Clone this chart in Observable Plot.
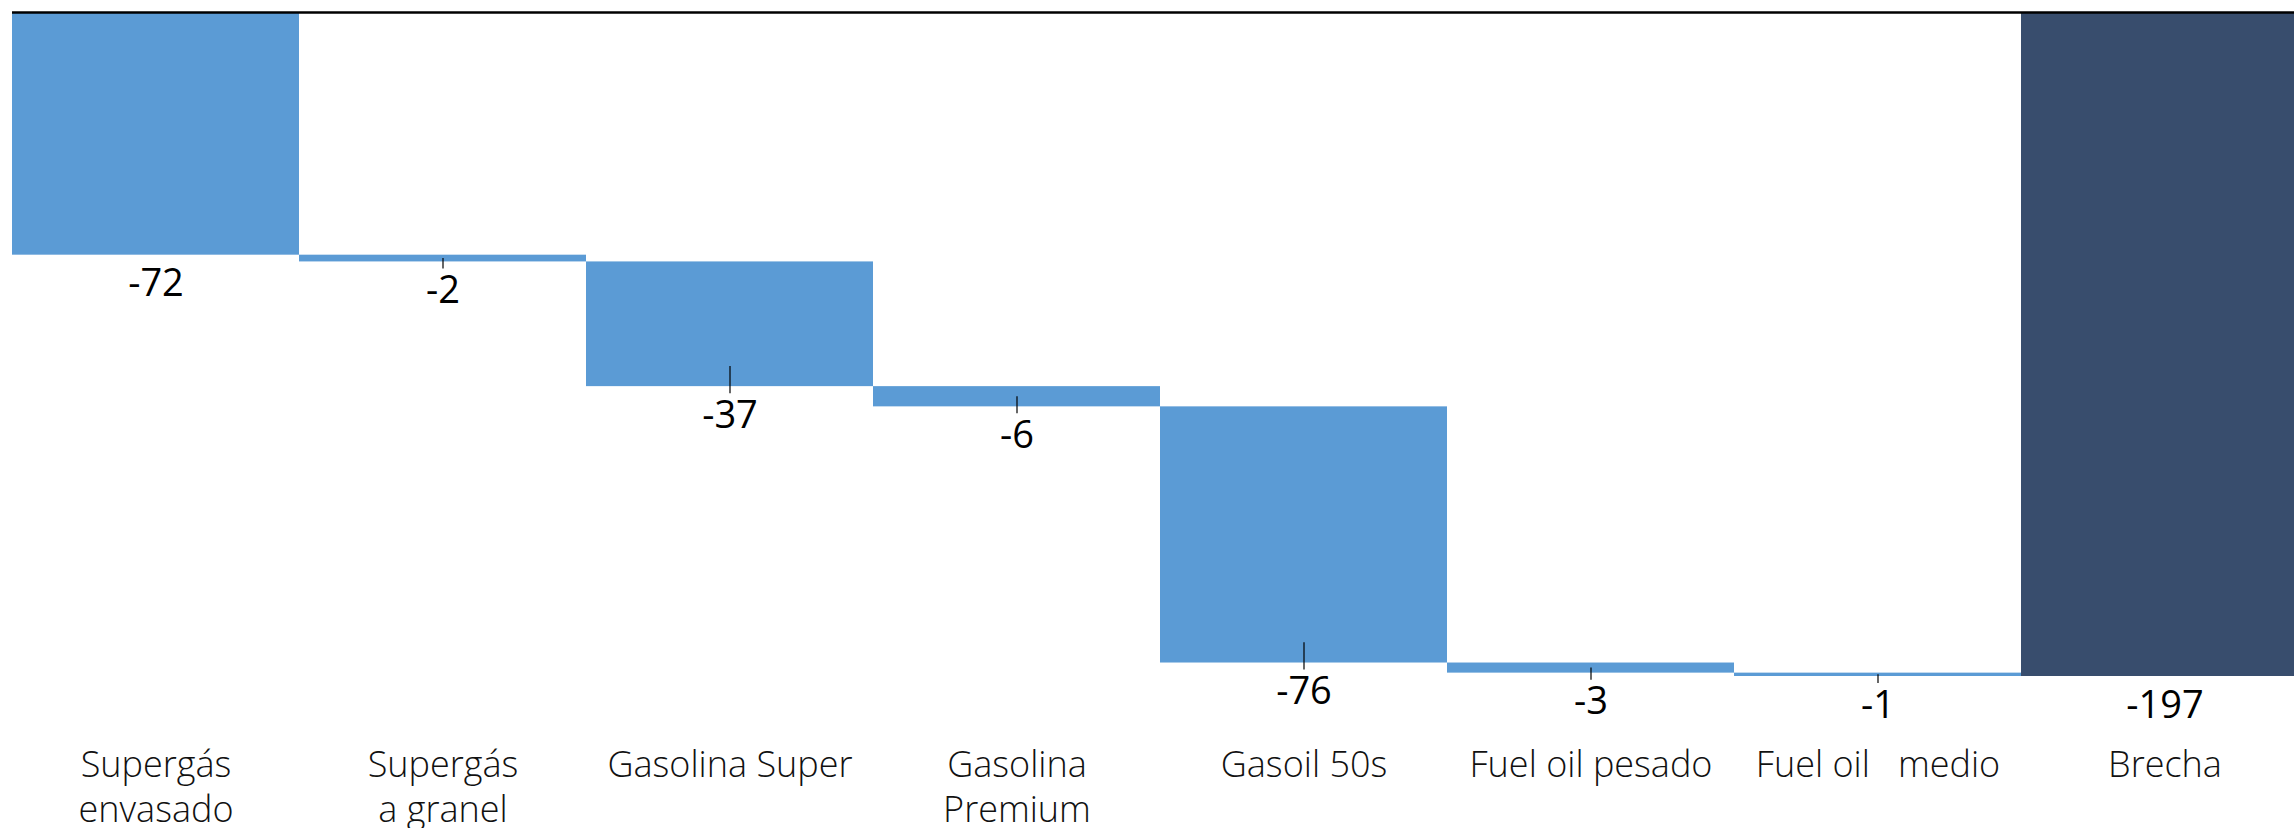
<!DOCTYPE html>
<html>
<head>
<meta charset="utf-8">
<script src="https://cdn.jsdelivr.net/npm/d3@7"></script>
<script src="https://cdn.jsdelivr.net/npm/@observablehq/plot@0.6"></script>
<style>
  html, body { margin: 0; padding: 0; background: #fff; }
  #chart svg text { white-space: pre; }
</style>
</head>
<body>
<div id="chart"></div>
<script>
// Data
const categories = ["Supergás\nenvasado", "Supergás\na granel", "Gasolina Super", "Gasolina\nPremium", "Gasoil 50s", "Fuel oil pesado", "Fuel oil   medio"];
const values = [-72, -2, -37, -6, -76, -3, -1];
const totalCategory = "Brecha";
const totalValue = -197;
const colors = {delta: "#5B9BD5", total: "#384D6D"};

// Build waterfall rows
let acc = 0;
const rows = categories.map((c, i) => {
  const start = acc;
  acc += values[i];
  return {cat: c, start, end: acc, value: values[i], type: "delta", idx: i};
});
rows.push({cat: totalCategory, start: 0, end: totalValue, value: totalValue, type: "total", idx: categories.length});
const domain = rows.map(d => d.cat);

const W = 2294, H = 828;
const chart = Plot.plot({
  width: W,
  height: H,
  marginTop: 12,
  marginBottom: 152,
  marginLeft: 12,
  marginRight: 0,
  style: {fontFamily: "'Open Sans', sans-serif", background: "#fff", overflow: "hidden"},
  x: {domain, range: [12, 2308], padding: 0, align: 0},
  y: {domain: [totalValue, 0], axis: null},
  marks: [
    Plot.barY(rows, {
      x: "cat", y1: "start", y2: "end",
      fill: d => colors[d.type],
      inset: 0
    }),
    Plot.ruleX(rows.filter(d => d.type === "delta" && d.idx > 0), {
      x: "cat",
      y1: d => d.end + Math.min(Math.abs(d.value) / 2, 6),
      y2: "end",
      insetBottom: -7,
      stroke: "#000",
      strokeWidth: 1.2
    }),
    Plot.text(rows, {
      x: "cat", y: "end",
      text: d => String(d.value),
      dy: 29,
      fontSize: 38,
      fill: "#000",
      lineAnchor: "middle"
    }),
    Plot.ruleY([0], {stroke: "#000", strokeWidth: 2.5}),
    Plot.axisX({
      anchor: "bottom",
      tickSize: 0,
      tickPadding: 69,
      fontSize: 36,
      fontWeight: 300,
      lineHeight: 1.25,
      lineAnchor: "top",
      label: null,
      fill: "#111"
    })
  ]
});
document.getElementById("chart").appendChild(chart);
</script>
</body>
</html>
